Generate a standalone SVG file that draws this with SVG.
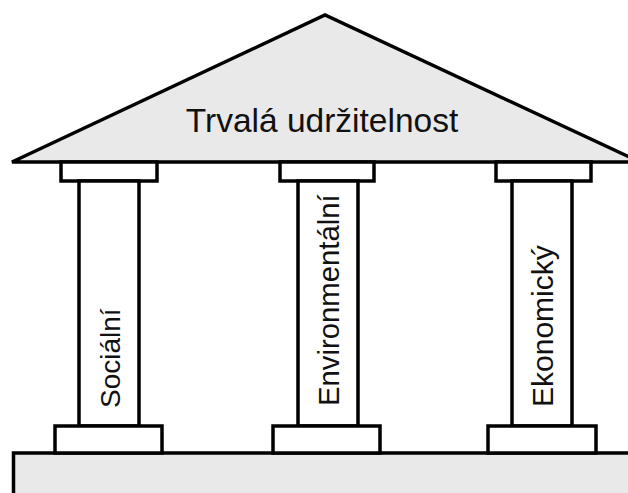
<svg xmlns="http://www.w3.org/2000/svg" width="628" height="493" viewBox="0 0 628 493">
<style>
.s{stroke:#000;stroke-width:3.5;stroke-linejoin:miter}
.w{fill:#fff}
.g{fill:#e9e9e9}
.t{font-family:"Liberation Sans",Arial,sans-serif;fill:#111}
</style>
<rect width="628" height="493" fill="#fff"/>
<g id="floor"><rect class="s g" x="13.5" y="453" width="630" height="60"/></g>
<g id="roof">
<polygon class="s g" points="12,162 325,15 640,162"/>
<text class="t" x="322" y="132" font-size="33.5" text-anchor="middle">Trvalá udržitelnost</text>
</g>
<g id="pillar-socialni">
<rect class="s w" x="61" y="162" width="96" height="19"/>
<rect class="s w" x="79" y="181" width="60" height="245"/>
<rect class="s w" x="55" y="426" width="107" height="27"/>
<text class="t" font-size="28" transform="translate(119.5,408) rotate(-90)">Sociální</text>
</g>
<g id="pillar-environmentalni">
<rect class="s w" x="280" y="162" width="94" height="19"/>
<rect class="s w" x="298" y="181" width="60" height="245"/>
<rect class="s w" x="273" y="426" width="107" height="27"/>
<text class="t" font-size="29.3" transform="translate(338.5,406) rotate(-90)">Environmentální</text>
</g>
<g id="pillar-ekonomicky">
<rect class="s w" x="496" y="162" width="95" height="19"/>
<rect class="s w" x="512" y="181" width="60" height="245"/>
<rect class="s w" x="488" y="426" width="108" height="27"/>
<text class="t" font-size="30" transform="translate(552.5,407) rotate(-90)">Ekonomický</text>
</g>
<g id="connectors"></g>
</svg>
